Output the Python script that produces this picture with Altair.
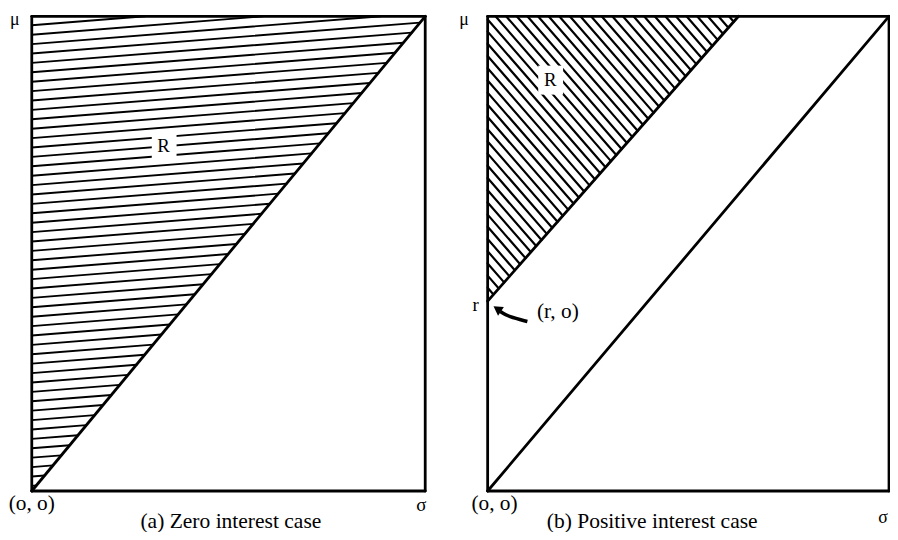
import altair as alt
import pandas as pd

# ---------------- data (σ, μ in each panel's own units) ----------------
# Panel (a) Zero interest case: boundary of R runs from (o, o) to the top corner
A_LINE_SIGMA = [0.0, 1.0]
A_LINE_MU = [0.0, 1.0]

# Panel (b) Positive interest case
B_R = 0.40                        # r on the μ axis, the point (r, o)
B_UPPER_SIGMA = [0.0, 0.625]      # boundary of R starting at (r, o)
B_UPPER_MU = [0.40, 1.0]
B_LOWER_SIGMA = [0.0, 1.0]        # parallel line through the origin
B_LOWER_MU = [0.0, 1.0]

BOX_SIGMA = [0.0, 1.0]
BOX_MU = [0.0, 1.0]

A_LABELS = ["μ", "(o, o)", "σ", "(a) Zero interest case", "R"]
B_LABELS = ["μ", "r", "(r, o)", "R", "(o, o)", "(b) Positive interest case", "σ"]

# curved arrow from the "(r, o)" label towards the point (r, o)
ARROW_SIGMA = [0.099, 0.052, 0.032]
ARROW_MU = [0.357, 0.367, 0.378]

# ---------------- layout / style ----------------
FONT = "Liberation Serif"
W, H = 890, 524
Y_DOM = [-0.0814, 1.0125]
XA_DOM = [-0.06045, 2.18136]
XB_DOM = [-1.19506, 1.00247]

A_LABEL_POS = [(-0.043, 0.9916, 18), (0.0, -0.027, 21.5), (0.99, -0.029, 19),
               (0.506, -0.0626, 21.7), (0.335, 0.7265, 19)]
B_LABEL_POS = [(-0.059, 0.9916, 18), (-0.030, 0.3925, 19), (0.175, 0.378, 21.5),
               (0.156, 0.866, 19), (0.017, -0.027, 21.5), (0.41, -0.0626, 21.7),
               (0.985, -0.0564, 18)]
A_R_GAP = [0.305, 0.368, 0.699, 0.755]
B_R_GAP = [0.126, 0.188, 0.835, 0.896]
ARROW_HEAD = (0.027, 0.382)

A_HATCH_SLOPE = 0.066     # gentle rise of panel (a) hatching
A_HATCH_STEP = 0.0198
B_HATCH_SLOPE = 0.972     # falling hatching of panel (b)
B_HATCH_STEP = 0.0257

YS = alt.Scale(domain=Y_DOM, nice=False, zero=False)


def xenc(field, dom):
    return alt.X(field, type="quantitative",
                 scale=alt.Scale(domain=dom, nice=False, zero=False), axis=None)


def yenc(field):
    return alt.Y(field, type="quantitative", scale=YS, axis=None)


def rules(rows, dom, width):
    df = pd.DataFrame(rows, columns=["s", "m", "s2", "m2"])
    return alt.Chart(df).mark_rule(color="black", strokeWidth=width, strokeCap="round").encode(
        x=xenc("s", dom), y=yenc("m"), x2="s2", y2="m2")


def box_rows():
    s0, s1 = BOX_SIGMA
    m0, m1 = BOX_MU
    return [(s0, m0, s1, m0), (s1, m0, s1, m1), (s1, m1, s0, m1), (s0, m1, s0, m0)]


def text_layer(label, s, m, size, dom):
    df = pd.DataFrame({"s": [s], "m": [m], "t": [label]})
    return alt.Chart(df).mark_text(font=FONT, fontSize=size, color="black",
                                   align="center", baseline="middle").encode(
        x=xenc("s", dom), y=yenc("m"), text="t:N")


def gap(rect, dom):
    df = pd.DataFrame({"s": [rect[0]], "s2": [rect[1]], "m": [rect[2]], "m2": [rect[3]]})
    return alt.Chart(df).mark_rect(color="white").encode(
        x=xenc("s", dom), x2="s2", y=yenc("m"), y2="m2")


# ---------- panel (a) ----------
a_hatch = []
c = BOX_MU[1] - 0.019
while c > 0.005:
    se = min(c / (1 - A_HATCH_SLOPE), (BOX_MU[1] - c) / A_HATCH_SLOPE)
    a_hatch.append((0.0, c, se, c + A_HATCH_SLOPE * se))
    c -= A_HATCH_STEP

a_layers = [
    rules(a_hatch, XA_DOM, 1.9),
    gap(A_R_GAP, XA_DOM),
    rules(box_rows(), XA_DOM, 2.8),
    rules([(A_LINE_SIGMA[0], A_LINE_MU[0], A_LINE_SIGMA[1], A_LINE_MU[1])], XA_DOM, 2.8),
]
for lab, (s, m, fs) in zip(A_LABELS, A_LABEL_POS):
    a_layers.append(text_layer(lab, s, m, fs, XA_DOM))
panel_a = alt.layer(*a_layers)

# ---------- panel (b) ----------
b_slope = (B_UPPER_MU[1] - B_UPPER_MU[0]) / (B_UPPER_SIGMA[1] - B_UPPER_SIGMA[0])
c_max = BOX_MU[1] + B_HATCH_SLOPE * B_UPPER_SIGMA[1]
b_hatch = []
c = B_R + 0.028
while c < c_max:
    if c <= BOX_MU[1]:
        s0, m0 = 0.0, c
    else:
        s0, m0 = (c - BOX_MU[1]) / B_HATCH_SLOPE, BOX_MU[1]
    se = (c - B_R) / (B_HATCH_SLOPE + b_slope)
    b_hatch.append((s0, m0, se, B_R + b_slope * se))
    c += B_HATCH_STEP

arrow_df = pd.DataFrame({"s": ARROW_SIGMA, "m": ARROW_MU, "o": list(range(len(ARROW_SIGMA)))})
arrow = alt.Chart(arrow_df).mark_line(color="black", strokeWidth=3.5, interpolate="basis").encode(
    x=xenc("s", XB_DOM), y=yenc("m"), order="o:Q")
head_df = pd.DataFrame({"s": [ARROW_HEAD[0]], "m": [ARROW_HEAD[1]]})
head = alt.Chart(head_df).mark_point(shape="triangle", filled=True, size=110, color="black",
                                     opacity=1, angle=304).encode(
    x=xenc("s", XB_DOM), y=yenc("m"))

b_layers = [
    rules(b_hatch, XB_DOM, 2.2),
    gap(B_R_GAP, XB_DOM),
    rules(box_rows(), XB_DOM, 2.8),
    rules([(B_UPPER_SIGMA[0], B_UPPER_MU[0], B_UPPER_SIGMA[1], B_UPPER_MU[1]),
           (B_LOWER_SIGMA[0], B_LOWER_MU[0], B_LOWER_SIGMA[1], B_LOWER_MU[1])], XB_DOM, 2.8),
    arrow,
    head,
]
for lab, (s, m, fs) in zip(B_LABELS, B_LABEL_POS):
    b_layers.append(text_layer(lab, s, m, fs, XB_DOM))
panel_b = alt.layer(*b_layers)

chart = alt.layer(panel_a, panel_b).resolve_scale(x="independent").properties(
    width=W, height=H, autosize=alt.AutoSizeParams(type="none"), padding=0,
    background="white").configure_view(stroke=None)

chart.save("out.html", embed_options={"renderer": "svg", "actions": False})
